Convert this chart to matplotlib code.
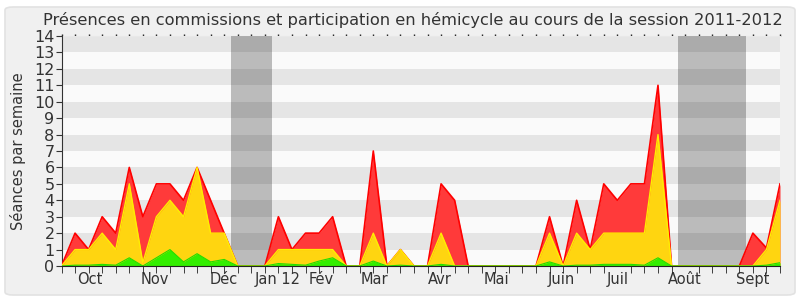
import matplotlib
matplotlib.use("Agg")
import matplotlib.pyplot as plt
from matplotlib.patches import FancyBboxPatch

# weekly totals (cumulative tops of each layer), session 2011-2012
hemicycle = [0, 2, 1, 3, 2, 6, 3, 5, 5, 4, 6, 4, 2, 0, 0, 0, 3, 1, 2, 2,
             3, 0, 0, 7, 0, 1, 0, 0, 5, 4, 0, 0, 0, 0, 0, 0, 3, 0, 4, 1,
             5, 4, 5, 5, 11, 0, 0, 0, 0, 0, 0, 2, 1.1, 5]
commission = [0, 1, 1, 2, 1, 5, 0.2, 3, 4, 3, 6, 2, 2, 0, 0, 0, 1, 1, 1, 1,
              1, 0, 0, 2, 0, 1, 0, 0, 2, 0, 0, 0, 0, 0, 0, 0, 2, 0, 2, 1,
              2, 2, 2, 2, 8, 0, 0, 0, 0, 0, 0, 0, 1, 4]
interventions = [0, 0.05, 0.05, 0.1, 0.05, 0.5, 0, 0.5, 1, 0.25, 0.75, 0.25, 0.4, 0, 0, 0, 0.15, 0.1, 0.05, 0.3,
                 0.5, 0, 0, 0.3, 0, 0.05, 0, 0, 0.1, 0, 0, 0, 0, 0, 0, 0, 0.25, 0, 0.05, 0.05,
                 0.1, 0.1, 0.1, 0.05, 0.5, 0, 0, 0, 0, 0, 0, 0, 0.05, 0.2]

vacances = [(12.5, 15.5), (45.5, 50.5)]
month_labels = ["Oct", "Nov", "Déc", "Jan 12", "Fév", "Mar", "Avr", "Mai",
                "Juin", "Juil", "Août", "Sept"]
month_pos = [2.1, 6.9, 11.95, 15.95, 19.15, 23.05, 27.9, 32.1, 36.85, 41.0, 46.0, 50.95]

weeks = list(range(len(hemicycle)))

fig = plt.figure(figsize=(8, 3), dpi=100, facecolor="white")
fig.patches.append(FancyBboxPatch((5 / 800, 5 / 300), 790 / 800, 288 / 300,
                                  boxstyle="round,pad=0,rounding_size=0.01",
                                  transform=fig.transFigure, facecolor="#f0f0f0",
                                  edgecolor="#e2e2e2", linewidth=1.2, zorder=-10))

ax = fig.add_axes([61.5 / 800, 34 / 300, 718.5 / 800, 230 / 300])
ax.set_facecolor("#fafafa")
ax.set_xlim(0, len(weeks) - 1)
ax.set_ylim(0, 14)

for k in range(1, 14, 2):
    ax.axhspan(k, k + 1, color="#e5e5e5", lw=0, zorder=0)
for a, b in vacances:
    ax.axvspan(a, b, color="black", alpha=0.25, lw=0, zorder=1)

ax.fill_between(weeks, 0, hemicycle, color="#ff3a3a", lw=0, zorder=2)
ax.plot(weeks, hemicycle, color="#ff0000", lw=1.2, zorder=3)
ax.fill_between(weeks, 0, commission, color="#ffd510", lw=0, zorder=4)
ax.plot(weeks, commission, color="#ffee00", lw=1, zorder=5)
ax.fill_between(weeks, 0, interventions, color="#33ee00", lw=0, zorder=6)
ax.plot(weeks, interventions, color="#22dd00", lw=0.8, zorder=7)

for s in ["top", "right"]:
    ax.spines[s].set_visible(False)
ax.spines["left"].set_color("#333333")
ax.spines["bottom"].set_color("#222222")
ax.spines["bottom"].set_zorder(8)

ax.set_yticks(range(0, 15))
ax.tick_params(axis="y", labelsize=11.5, colors="#333333", length=4, pad=1)
ax.set_xticks(weeks, minor=True)
ax.set_xticks(month_pos)
ax.set_xticklabels(month_labels)
ax.tick_params(axis="x", which="major", length=0, labelsize=10.5, colors="#333333", pad=4)
ax.tick_params(axis="x", which="minor", length=5, color="#222222", bottom=True, top=False)

# small dotted marks along the top edge
top = ax.secondary_xaxis("top")
top.set_xticks(weeks)
top.set_xticklabels([])
top.tick_params(length=1.5, width=1, color="#222222", direction="out")
top.spines["top"].set_color("#e8e8e8")

ax.set_ylabel("Séances par semaine", fontsize=10.5, color="#333333", labelpad=6)
fig.text(0.516, 0.915, "Présences en commissions et participation en hémicycle au cours de la session 2011-2012",
         ha="center", va="baseline", fontsize=11.7, color="#333333")

fig.savefig("out.png", dpi=100, facecolor=fig.get_facecolor())
